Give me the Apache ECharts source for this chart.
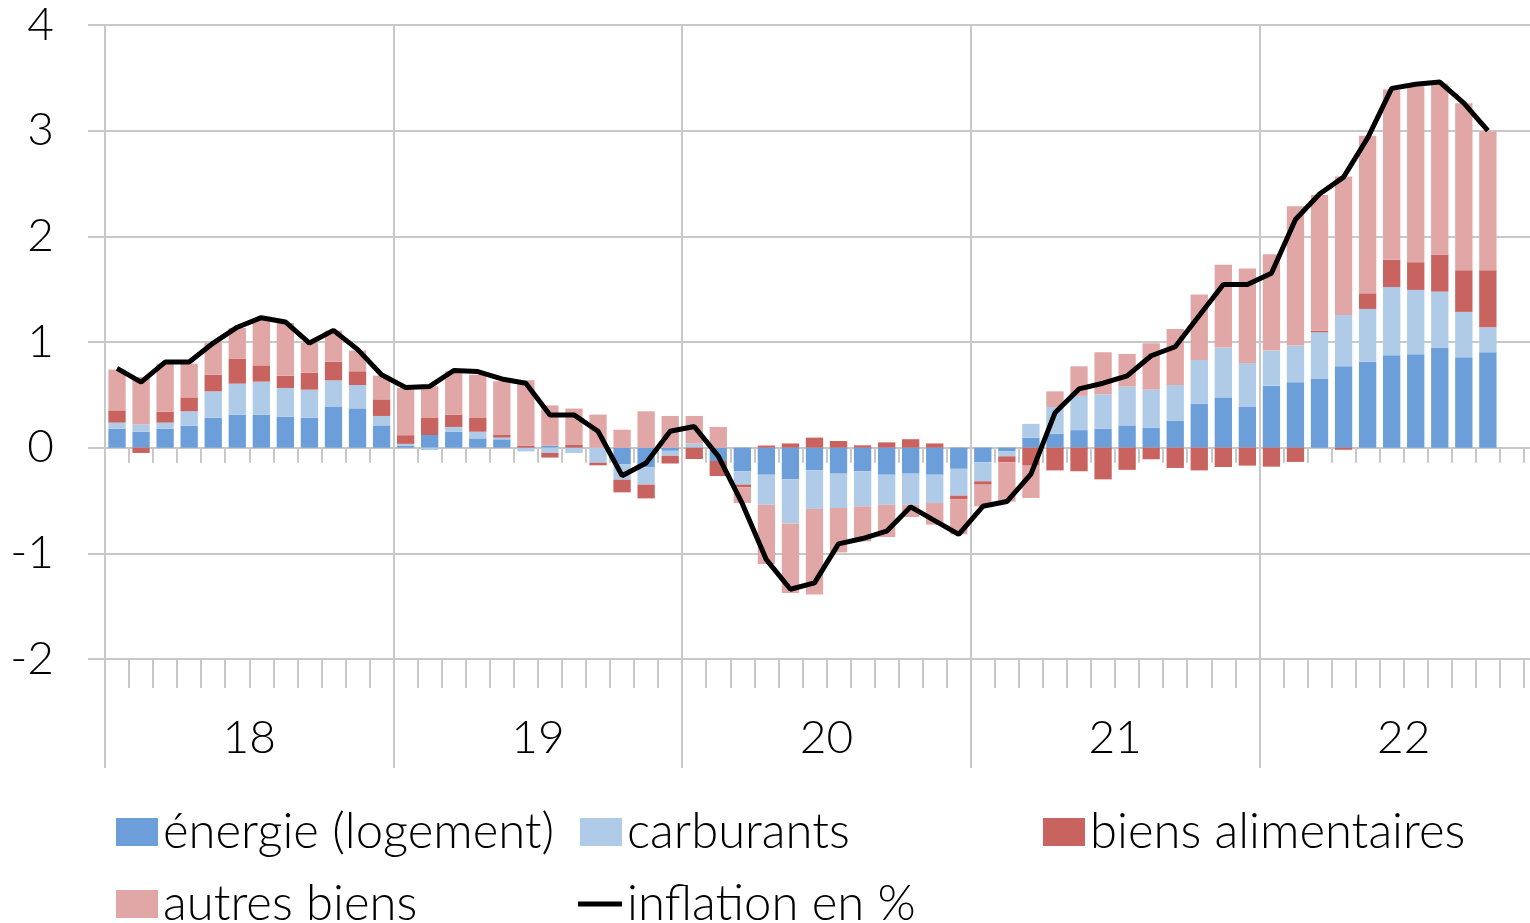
<!DOCTYPE html>
<html>
<head>
<meta charset="utf-8">
<script src="https://cdn.jsdelivr.net/npm/echarts@6/dist/echarts.min.js"></script>
<style>
  html, body { margin: 0; padding: 0; background: #fff; overflow: hidden; width: 1530px; height: 923px; }
  #chart { width: 1548px; height: 923px; }
</style>
</head>
<body>
<div id="chart"></div>
<script>
// ---- Data (monthly, Jan 2018 – Dec 2022) ----
const yearLabels = ['18', '19', '20', '21', '22'];
const monthCodes = ['01','02','03','04','05','06','07','08','09','10','11','12'];
const months = yearLabels.flatMap(y => monthCodes.map(m => y + '-' + m));

const energie = [
  0.18, 0.152, 0.18, 0.208, 0.284, 0.313, 0.313, 0.294, 0.284, 0.385, 0.372, 0.211,
  0.02, 0.12, 0.151, 0.088, 0.079, 0.0, 0.02, 0.0, 0.0, -0.155, -0.186, -0.03,
  0.0, -0.126, -0.224, -0.256, -0.30, -0.215, -0.246, -0.224, -0.256, -0.246, -0.256, -0.2,
  -0.138, -0.035, 0.095, 0.133, 0.166, 0.18, 0.211, 0.19, 0.253, 0.417, 0.476, 0.385,
  0.587, 0.62, 0.65, 0.77, 0.814, 0.874, 0.884, 0.947, 0.855, 0.902
];
const carburants = [
  0.057, 0.069, 0.057, 0.136, 0.249, 0.293, 0.312, 0.271, 0.265, 0.252, 0.221, 0.089,
  0.016, -0.022, 0.045, 0.063, 0.016, -0.035, -0.05, -0.05, -0.142, -0.148, -0.164, -0.047,
  0.04, 0.0, -0.126, -0.284, -0.417, -0.365, -0.325, -0.331, -0.284, -0.294, -0.268, -0.254,
  -0.18, -0.047, 0.13, 0.252, 0.324, 0.325, 0.367, 0.359, 0.341, 0.413, 0.471, 0.415,
  0.332, 0.346, 0.442, 0.486, 0.499, 0.646, 0.609, 0.53, 0.43, 0.237
];
const alimentaires = [
  0.116, -0.05, 0.104, 0.132, 0.158, 0.237, 0.154, 0.117, 0.161, 0.177, 0.13, 0.157,
  0.082, 0.161, 0.117, 0.13, 0.025, 0.02, -0.044, 0.03, -0.025, -0.12, -0.13, -0.073,
  -0.107, -0.142, -0.025, 0.02, 0.04, 0.095, 0.063, 0.022, 0.05, 0.08, 0.04, -0.036,
  -0.032, -0.056, -0.17, -0.215, -0.223, -0.30, -0.21, -0.11, -0.192, -0.215, -0.183, -0.17,
  -0.18, -0.135, 0.016, -0.02, 0.148, 0.26, 0.262, 0.351, 0.394, 0.54
];
const autres = [
  0.386, 0.448, 0.454, 0.319, 0.30, 0.29, 0.433, 0.498, 0.281, 0.294, 0.196, 0.225,
  0.448, 0.30, 0.41, 0.41, 0.508, 0.617, 0.38, 0.34, 0.313, 0.17, 0.344, 0.30,
  0.26, 0.196, -0.148, -0.56, -0.659, -0.81, -0.42, -0.332, -0.306, -0.116, -0.205, -0.33,
  -0.205, -0.372, -0.306, 0.148, 0.28, 0.398, 0.309, 0.439, 0.53, 0.619, 0.783, 0.895,
  0.911, 1.319, 1.282, 1.31, 1.49, 1.61, 1.665, 1.619, 1.581, 1.316
];
const inflation = [
  0.75, 0.62, 0.81, 0.81, 0.99, 1.14, 1.23, 1.19, 0.99, 1.11, 0.93, 0.69,
  0.57, 0.58, 0.73, 0.72, 0.65, 0.61, 0.31, 0.31, 0.155, -0.265, -0.145, 0.155,
  0.2, -0.08, -0.53, -1.06, -1.34, -1.28, -0.91, -0.86, -0.79, -0.56, -0.69, -0.82,
  -0.555, -0.51, -0.25, 0.33, 0.556, 0.61, 0.68, 0.87, 0.955, 1.25, 1.544, 1.544,
  1.65, 2.16, 2.40, 2.56, 2.93, 3.40, 3.44, 3.46, 3.26, 3.0
];

const names = ['énergie (logement)', 'carburants', 'biens alimentaires', 'autres biens', 'inflation en %'];
const colors = ['#6C9FDA', '#AFCBE8', '#C9635F', '#E1A7A6'];

// ---- Styling ----
const FONT = 'Lato';
const GREY = '#C8C8C8';
const lineSt = { color: GREY, width: 2 };

const chart = echarts.init(document.getElementById('chart'));

function legendAt(name, left, top, extra) {
  return Object.assign({
    data: [name], left: left, top: top, orient: 'horizontal',
    padding: 0, itemGap: 0, itemWidth: 42, itemHeight: 28,
    icon: 'rect', selectedMode: false,
    textStyle: { fontFamily: FONT, fontWeight: 300, fontSize: 49, lineHeight: 54, color: '#000' }
  }, extra || {});
}

const barSeries = [energie, carburants, alimentaires, autres].map((d, i) => ({
  name: names[i], type: 'bar', stack: 'total', data: d,
  xAxisIndex: 0, yAxisIndex: 0,
  barCategoryGap: '28%',
  itemStyle: { color: colors[i] },
  emphasis: { disabled: true }
}));

const option = {
  animation: false,
  backgroundColor: '#fff',
  textStyle: { fontFamily: FONT },
  grid: { left: 105, right: 0, top: 25, bottom: 264, containLabel: false },
  legend: [
    legendAt(names[0], 116, 805),
    legendAt(names[1], 580, 805),
    legendAt(names[2], 1043, 805),
    legendAt(names[3], 116, 877),
    legendAt(names[4], 578, 877, {
      icon: 'path://M0,0 L44,0 L44,5 L0,5 Z', itemWidth: 44, itemHeight: 5,
      itemStyle: { color: '#000' }
    })
  ],
  xAxis: [
    {
      type: 'category', data: months, position: 'bottom',
      axisLine: { show: true, onZero: true, lineStyle: lineSt },
      axisTick: { show: true, interval: 0, length: 15, lineStyle: lineSt },
      axisLabel: { show: false },
      splitLine: { show: false }
    },
    {
      type: 'category', data: months, position: 'bottom',
      axisLine: { show: true, onZero: false, lineStyle: lineSt },
      axisTick: { show: true, interval: 0, length: 29, lineStyle: lineSt },
      axisLabel: { show: false },
      splitLine: { show: false }
    },
    {
      type: 'category', data: yearLabels, position: 'bottom',
      axisLine: { show: false, onZero: false },
      axisTick: { show: true, interval: 0, length: 109, lineStyle: lineSt },
      axisLabel: { show: true, interval: 0, fontFamily: FONT, fontWeight: 300, fontSize: 46, lineHeight: 50, margin: 54, color: '#000' },
      splitLine: { show: true, interval: 0, lineStyle: lineSt }
    }
  ],
  yAxis: {
    type: 'value', min: -2, max: 4, interval: 1,
    axisLine: { show: true, lineStyle: lineSt },
    axisTick: { show: true, length: 17, lineStyle: lineSt },
    axisLabel: { fontFamily: FONT, fontWeight: 300, fontSize: 46, margin: 51, color: '#000' },
    splitLine: { show: true, lineStyle: lineSt }
  },
  series: barSeries.concat([{
    name: names[4], type: 'line', data: inflation,
    xAxisIndex: 0, yAxisIndex: 0,
    symbol: 'none', z: 10,
    lineStyle: { color: '#000', width: 5 },
    itemStyle: { color: '#000' },
    emphasis: { disabled: true }
  }])
};
chart.setOption(option);
</script>
</body>
</html>
